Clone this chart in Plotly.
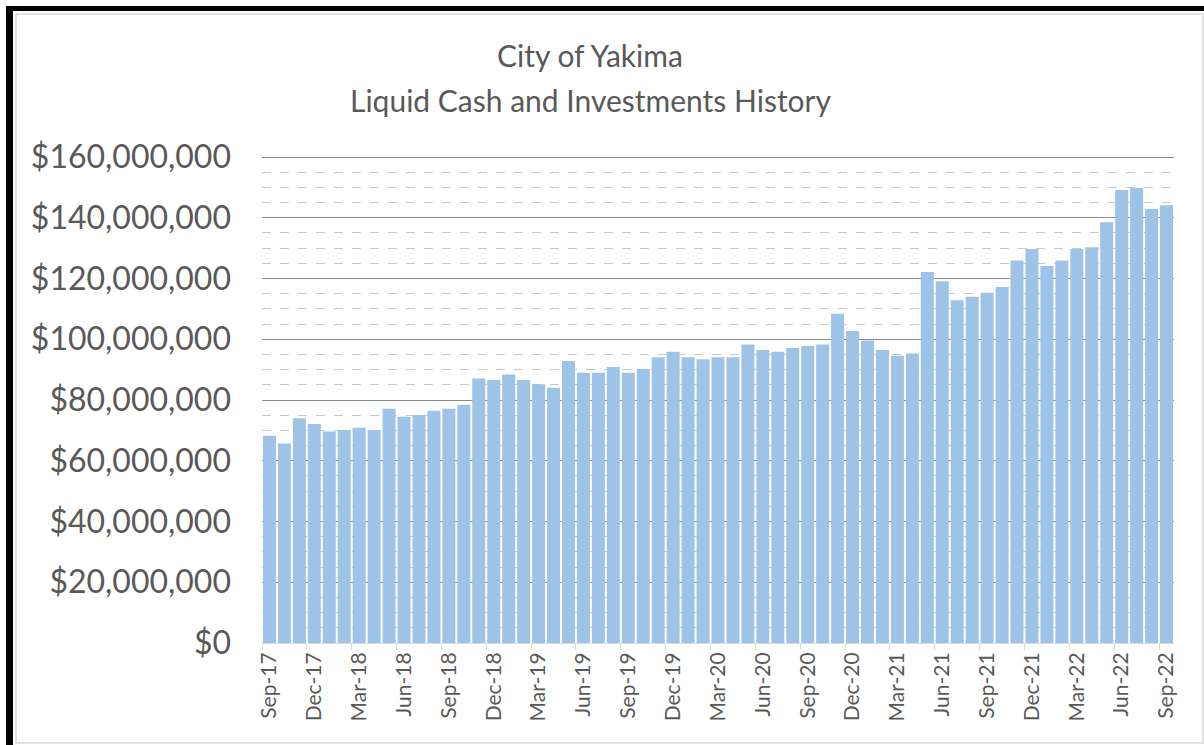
import plotly.graph_objects as go

months = [
    "Sep-17", "Oct-17", "Nov-17", "Dec-17", "Jan-18", "Feb-18", "Mar-18", "Apr-18", "May-18",
    "Jun-18", "Jul-18", "Aug-18", "Sep-18", "Oct-18", "Nov-18", "Dec-18", "Jan-19", "Feb-19",
    "Mar-19", "Apr-19", "May-19", "Jun-19", "Jul-19", "Aug-19", "Sep-19", "Oct-19", "Nov-19",
    "Dec-19", "Jan-20", "Feb-20", "Mar-20", "Apr-20", "May-20", "Jun-20", "Jul-20", "Aug-20",
    "Sep-20", "Oct-20", "Nov-20", "Dec-20", "Jan-21", "Feb-21", "Mar-21", "Apr-21", "May-21",
    "Jun-21", "Jul-21", "Aug-21", "Sep-21", "Oct-21", "Nov-21", "Dec-21", "Jan-22", "Feb-22",
    "Mar-22", "Apr-22", "May-22", "Jun-22", "Jul-22", "Aug-22", "Sep-22",
]

balance_millions = [
    68.2, 65.7, 74.0, 72.1, 69.6, 70.1, 70.9, 70.1, 77.1,
    74.5, 75.1, 76.5, 77.1, 78.4, 87.1, 86.6, 88.4, 86.6,
    85.2, 84.0, 92.8, 89.0, 89.0, 90.9, 89.0, 90.2, 94.1,
    95.9, 94.1, 93.4, 94.1, 94.1, 98.3, 96.5, 95.9, 97.1,
    97.8, 98.3, 108.4, 102.7, 99.6, 96.5, 94.6, 95.3, 122.1,
    119.1, 112.8, 114.0, 115.3, 117.2, 125.9, 129.7, 124.1, 125.9,
    129.7, 130.3, 138.5, 149.1, 149.8, 142.9, 144.1,
]
balance = [v * 1_000_000 for v in balance_millions]

title_lines = ["City of Yakima", "Liquid Cash and Investments History"]

W, H = 1204, 745
# pixel layout: $0 at y=643, $160M at y=157; plot area extended a few px above
L, R, B = 262, 1174, 643
Y160 = 157
T = 152
YMAX = 160e6 * (B - T) / (B - Y160)
pw, ph = R - L, B - T


def px(x):
    return (x - L) / pw


def py(y):
    return (B - y) / ph


TEXT = "#595959"
FONT = "Lato"

fig = go.Figure()
fig.add_trace(go.Bar(
    x=months, y=balance,
    marker=dict(color="#9dc3e6", line=dict(width=0)),
    hoverinfo="x+y",
))

fig.update_layout(
    width=W, height=H,
    margin=dict(l=L, r=W - R, t=T, b=H - B, pad=0),
    paper_bgcolor="white", plot_bgcolor="white",
    bargap=0.13,
    showlegend=False,
    font=dict(family=FONT, color=TEXT),
)

fig.update_yaxes(
    range=[0, YMAX], tickmode="linear", tick0=0, dtick=20e6,
    tickformat="$,.0f",
    tickfont=dict(family=FONT, size=32, color=TEXT),
    showgrid=True, gridcolor="#8c8c8c", gridwidth=1,
    minor=dict(dtick=5e6, showgrid=True, gridcolor="#c8c8c8", griddash="dash", gridwidth=1),
    zeroline=False, showline=False, ticks="",
    ticklabelstandoff=30,
)

fig.update_xaxes(
    type="category", tickmode="linear", tick0=0, dtick=3,
    tickson="boundaries", ticks="outside", ticklen=6, tickcolor="#d9d9d9", tickwidth=1,
    tickangle=-90,
    tickfont=dict(family=FONT, size=21, color=TEXT),
    showline=True, linecolor="#d9d9d9", linewidth=1,
    showgrid=False, zeroline=False,
    range=[-0.5, len(months) - 0.5],
)

# Titles
fig.add_annotation(text=title_lines[0], xref="paper", yref="paper", x=px(590), y=py(55),
                   showarrow=False, xanchor="center", yanchor="middle",
                   font=dict(family=FONT, size=30, color=TEXT))
fig.add_annotation(text=title_lines[1], xref="paper", yref="paper", x=px(590), y=py(100),
                   showarrow=False, xanchor="center", yanchor="middle",
                   font=dict(family=FONT, size=30, color=TEXT))

# Frame: light gray chart border and black left/top edges
fig.add_shape(type="rect", xref="paper", yref="paper",
              x0=px(16), x1=px(1203), y0=py(743), y1=py(14),
              line=dict(color="#d9d9d9", width=1.5), fillcolor="rgba(0,0,0,0)", layer="above")
fig.add_shape(type="rect", xref="paper", yref="paper",
              x0=px(6), x1=px(13), y0=py(745), y1=py(6),
              line=dict(width=0), fillcolor="black", layer="above")
fig.add_shape(type="rect", xref="paper", yref="paper",
              x0=px(6), x1=px(1204), y0=py(11), y1=py(6),
              line=dict(width=0), fillcolor="black", layer="above")

fig.write_html(
    "out.html",
    config={"displayModeBar": False},
    post_script="document.body.style.margin='0';document.body.style.overflow='hidden';",
)
